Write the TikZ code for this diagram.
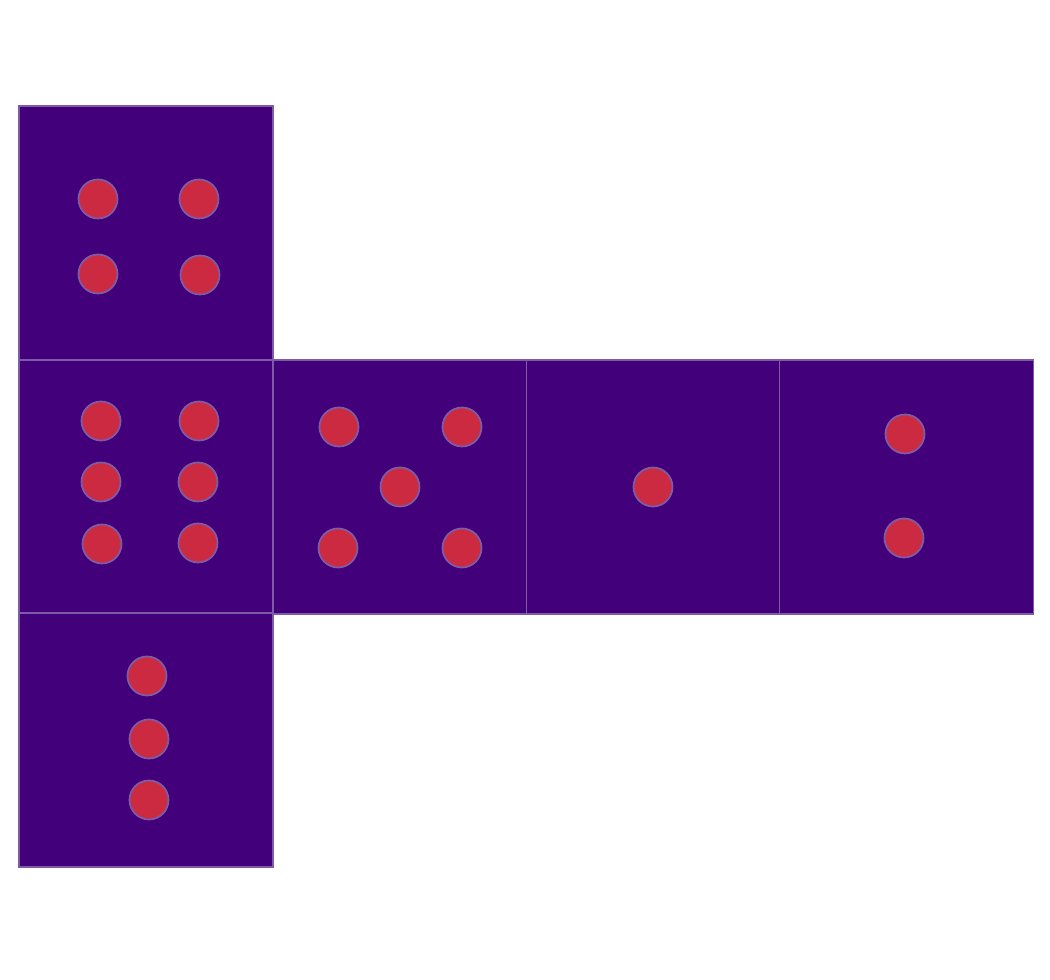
\documentclass[tikz,border=0pt]{standalone}
\definecolor{facefill}{HTML}{42007A}
\definecolor{edge}{HTML}{7E5BA6}
\definecolor{pipred}{HTML}{CC2A40}
\tikzset{
  face/.style={draw=edge, line width=0.35pt, fill=facefill, minimum size=254*0.01cm, inner sep=0pt, outer sep=0pt},
  pip/.style={circle, draw=edge, line width=0.5pt, fill=pipred, minimum size=39*0.01cm, inner sep=0pt}
}
\begin{document}
\begin{tikzpicture}[x=0.01cm,y=-0.01cm]
\useasboundingbox (0,0) rectangle (1050,980);
\node[face] (ftop) at (146,233) {};
\node[face] (fsix) at (146,487) {};
\node[face] (ffive) at (400,487) {};
\node[face] (fone) at (653.5,487) {};
\node[face] (ftwo) at (906.5,487) {};
\node[face] (fthree) at (146,740) {};
% four
\node[pip] (t1) at (98,199) {};
\node[pip] (t2) at (199,199) {};
\node[pip] (t3) at (98,274) {};
\node[pip] (t4) at (200,275) {};
% six
\node[pip] (s1) at (101,421) {};
\node[pip] (s2) at (199,421) {};
\node[pip] (s3) at (101,482) {};
\node[pip] (s4) at (198,482) {};
\node[pip] (s5) at (102,544) {};
\node[pip] (s6) at (198,543) {};
% five
\node[pip] (v1) at (339,427) {};
\node[pip] (v2) at (462,427) {};
\node[pip] (v3) at (400,487) {};
\node[pip] (v4) at (338,548) {};
\node[pip] (v5) at (462,548) {};
% one
\node[pip] (o1) at (653,487) {};
% two
\node[pip] (w1) at (905,434) {};
\node[pip] (w2) at (904,538) {};
% three
\node[pip] (h1) at (147,676) {};
\node[pip] (h2) at (149,739) {};
\node[pip] (h3) at (149,800) {};
\end{tikzpicture}
\end{document}
